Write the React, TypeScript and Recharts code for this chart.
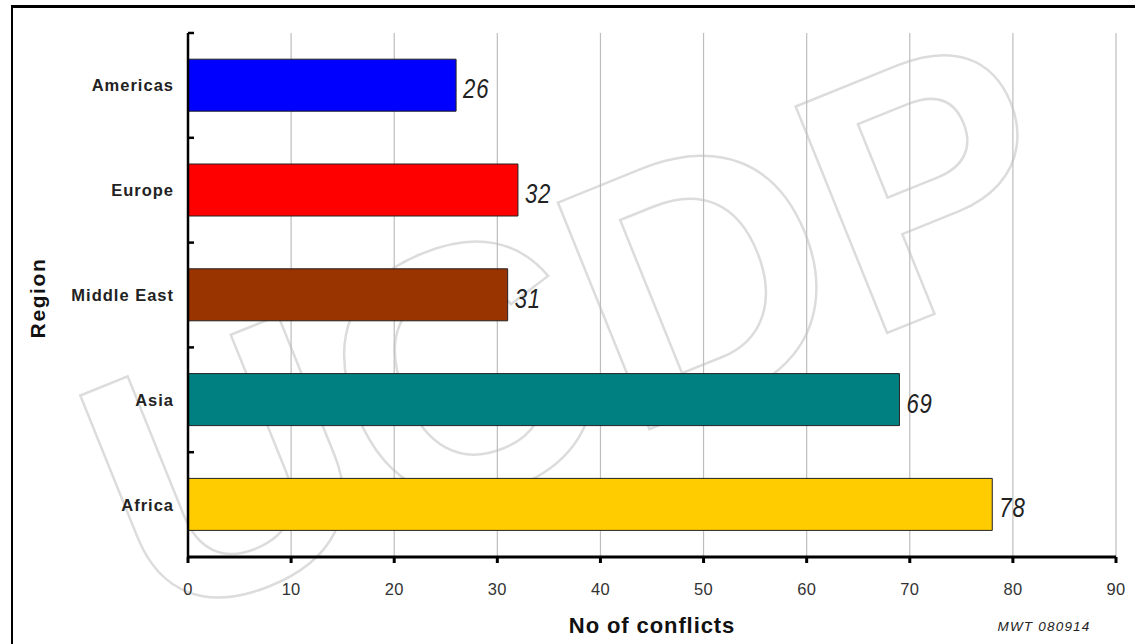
import React from "react";
import {
  BarChart,
  Bar,
  XAxis,
  YAxis,
  CartesianGrid,
  LabelList,
  Cell,
} from "recharts";

const regions = ["Americas", "Europe", "Middle East", "Asia", "Africa"];
const conflicts = [26, 32, 31, 69, 78];
const barColors = ["#0000FF", "#FF0000", "#993300", "#008080", "#FFCC00"];
const xTicks = [0, 10, 20, 30, 40, 50, 60, 70, 80, 90];

const data = regions.map((name, i) => ({ name, value: conflicts[i] }));

const W = 1135;
const H = 644;
const FONT = "Liberation Sans, Arial, Helvetica, sans-serif";

const YTick = (props: any) => {
  const { x, y, payload } = props;
  const off = payload && payload.offset ? payload.offset : 0;
  return (
    <g>
      <line x1={x + 8} x2={x + 14} y1={y - off} y2={y - off} stroke="#000" strokeWidth={2.5} />
      <text
        x={x - 6}
        y={y}
        dy={6}
        textAnchor="end"
        fontFamily={FONT}
        fontWeight="bold"
        fontSize={16.5}
        letterSpacing={1}
        fill="#222"
      >
        {payload.value}
      </text>
    </g>
  );
};

const XTick = (props: any) => {
  const { x, y, payload } = props;
  return (
    <g>
      <line x1={x} x2={x} y1={y - 8} y2={y - 2} stroke="#000" strokeWidth={3} />
      <text
        x={x}
        y={y + 30}
        textAnchor="middle"
        fontFamily={FONT}
        fontSize={16.5}
        letterSpacing={0.3}
        fill="#333"
      >
        {payload.value}
      </text>
    </g>
  );
};

const ValueLabel = (props: any) => {
  const { x, y, width, height, value } = props;
  const tx = Number(x) + Number(width) + 7;
  const ty = Number(y) + Number(height) / 2 + 13;
  return (
    <text
      transform={`translate(${tx},${ty}) scale(0.82,1)`}
      fontFamily={FONT}
      fontStyle="italic"
      fontSize={27}
      letterSpacing={1}
      fill="#222"
    >
      {value}
    </text>
  );
};

export default function App() {
  return (
    <div
      style={{
        position: "absolute",
        left: 0,
        top: 0,
        width: W,
        height: H,
        overflow: "hidden",
        background: "#fff",
      }}
    >
      <svg
        width={W}
        height={H}
        style={{ position: "absolute", left: 0, top: 0 }}
      >
        <text
          x={152}
          y={630}
          fontSize={355}
          fontFamily={FONT}
          fontWeight="bold"
          fill="none"
          stroke="#dcdcdc"
          strokeWidth={2.5}
          transform="rotate(-22 152 630)"
        >
          UCDP
        </text>
      </svg>
      <div
        style={{
          position: "absolute",
          left: 11,
          top: 5,
          width: W,
          height: H,
          borderLeft: "2px solid #000",
          borderTop: "3px solid #000",
        }}
      />
      <div style={{ position: "absolute", left: 0, top: 0 }}>
        <BarChart
          width={W}
          height={H}
          data={data}
          layout="vertical"
          margin={{ top: 33, right: 19, bottom: 57, left: 0 }}
          barCategoryGap="25%"
        >
          <CartesianGrid
            horizontal={false}
            vertical={true}
            stroke="#bdbdbd"
            strokeWidth={1.2}
          />
          <XAxis
            type="number"
            domain={[0, 90]}
            ticks={xTicks}
            interval={0}
            height={30}
            axisLine={{ stroke: "#000", strokeWidth: 3 }}
            tickLine={false}
            tick={<XTick />}
          />
          <YAxis
            type="category"
            dataKey="name"
            width={188}
            axisLine={{ stroke: "#000", strokeWidth: 2.5 }}
            tickLine={false}
            tick={<YTick />}
            interval={0}
          />
          <Bar
            dataKey="value"
            isAnimationActive={false}
            stroke="#222"
            strokeWidth={1}
          >
            {data.map((d, i) => (
              <Cell key={d.name} fill={barColors[i]} />
            ))}
            <LabelList dataKey="value" content={<ValueLabel />} />
          </Bar>
        </BarChart>
      </div>
      <div
        style={{
          position: "absolute",
          left: 38,
          top: 298,
          transform: "translate(-50%, -50%) rotate(-90deg)",
          fontFamily: FONT,
          fontWeight: "bold",
          fontSize: 21,
          letterSpacing: 1.6,
          color: "#111",
          whiteSpace: "nowrap",
        }}
      >
        Region
      </div>
      <div
        style={{
          position: "absolute",
          left: 652,
          top: 626,
          transform: "translate(-50%, -50%)",
          fontFamily: FONT,
          fontWeight: "bold",
          fontSize: 22,
          letterSpacing: 0.9,
          color: "#111",
          whiteSpace: "nowrap",
        }}
      >
        No of conflicts
      </div>
      <div
        style={{
          position: "absolute",
          left: 1044,
          top: 626,
          transform: "translate(-50%, -50%)",
          fontFamily: FONT,
          fontStyle: "italic",
          fontSize: 13.5,
          letterSpacing: 1.2,
          color: "#222",
          whiteSpace: "nowrap",
        }}
      >
        MWT 080914
      </div>
    </div>
  );
}
